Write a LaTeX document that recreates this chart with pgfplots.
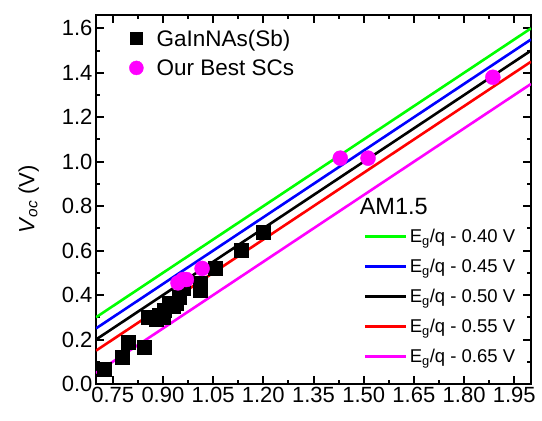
\documentclass[border=0pt]{standalone}
\usepackage{fontspec}
\setmainfont{Liberation Sans}
\usepackage{pgfplots}
\pgfplotsset{compat=1.18}

\definecolor{lgreen}{RGB}{0,255,0}
\definecolor{lblue}{RGB}{0,0,255}
\definecolor{lred}{RGB}{255,0,0}
\definecolor{lmag}{RGB}{255,0,255}

\begin{document}
\begin{tikzpicture}
\pgfplotsset{
  base/.style={
    scale only axis, width=435bp, height=369bp,
    xmin=0.7, xmax=2.0, ymin=0, ymax=1.66,
    at={(0,0)}, anchor=south west,
  },
}
\begin{axis}[base,
  axis line style={line width=2.5bp},
  tick align=inside,
  xtick={0.75,0.90,1.05,1.20,1.35,1.50,1.65,1.80,1.95},
  ytick={0,0.2,0.4,0.6,0.8,1.0,1.2,1.4,1.6},
  minor x tick num=1, minor y tick num=1,
  major tick length=8bp, minor tick length=4.5bp,
  every tick/.style={black, line width=2bp},
  /pgf/number format/assume math mode=true,
  xticklabel={\pgfmathprintnumber[fixed,fixed zerofill,precision=2]{\tick}},
  yticklabel={\pgfmathprintnumber[fixed,fixed zerofill,precision=1]{\tick}},
  tick label style={font=\fontsize{22bp}{26bp}\selectfont},
  ylabel={\textit{V}\textsubscript{\textit{oc}} (V)},
  ylabel style={at={(axis description cs:-0.155,0.5)}, anchor=center,
    font=\fontsize{22bp}{26bp}\selectfont},
  legend style={at={(rel axis cs:0.616,0.511)}, anchor=north west,
    draw=none, fill=none, font=\fontsize{18.5bp}{22bp}\selectfont,
    row sep=11.1bp, inner sep=0pt,
    /tikz/every even column/.append style={column sep=7bp}},
  legend cell align=left,
  legend image code/.code={\draw[#1] (0bp,0bp) -- (41bp,0bp);},
]
% GaInNAs(Sb)
\addplot[only marks, mark=square*, mark size=7bp, black, forget plot] coordinates {
(0.725,0.066) (0.779,0.120) (0.796,0.190) (0.843,0.166) (0.856,0.300)
(0.870,0.300) (0.880,0.290) (0.890,0.310) (0.900,0.300) (0.905,0.330)
(0.920,0.365) (0.930,0.350) (0.940,0.364) (0.950,0.390) (0.960,0.430)
(1.010,0.420) (1.010,0.455) (1.055,0.520) (1.134,0.600) (1.200,0.683)
};

\addlegendimage{empty legend}
\addlegendentry{\hspace{-50bp}\raisebox{-2bp}[15bp][0bp]{\fontsize{23.5bp}{27bp}\selectfont AM1.5}}
\addplot[lgreen, line width=2.6bp] coordinates {(0.7,0.30) (2.0,1.60)};
\addlegendentry{E\textsubscript{g}/q - 0.40 V}
\addplot[lblue, line width=2.6bp] coordinates {(0.7,0.25) (2.0,1.55)};
\addlegendentry{E\textsubscript{g}/q - 0.45 V}
\addplot[black, line width=2.6bp] coordinates {(0.7,0.20) (2.0,1.50)};
\addlegendentry{E\textsubscript{g}/q - 0.50 V}
\addplot[lred, line width=2.6bp] coordinates {(0.7,0.15) (2.0,1.45)};
\addlegendentry{E\textsubscript{g}/q - 0.55 V}
\addplot[lmag, line width=2.6bp] coordinates {(0.7,0.05) (2.0,1.35)};
\addlegendentry{E\textsubscript{g}/q - 0.65 V}

% Our Best SCs
\addplot[only marks, mark=*, mark size=7.5bp, lmag, forget plot] coordinates {
(0.945,0.455) (0.960,0.470) (0.970,0.470) (1.017,0.520)
(1.430,1.016) (1.513,1.016) (1.886,1.380)
};
\end{axis}

\begin{axis}[base, hide axis,
  legend style={at={(rel axis cs:0.0736,0.966)}, anchor=north west,
    draw=none, fill=none, font=\fontsize{22.5bp}{26bp}\selectfont,
    row sep=7.8bp, inner sep=0pt,
    /tikz/every even column/.append style={column sep=18bp}},
  legend cell align=left,
  legend image code/.code={\draw[#1] plot coordinates {(8bp,0bp)}; \path (0bp,0bp) (26bp,0bp);},
]
\addlegendimage{only marks, mark=square*, mark size=6bp, black}
\addlegendentry{GaInNAs(Sb)}
\addlegendimage{only marks, mark=*, mark size=7bp, lmag}
\addlegendentry{Our Best SCs}
\end{axis}

\pgfresetboundingbox
\path[use as bounding box] (-96bp,-37bp) rectangle (446bp,384bp);
\end{tikzpicture}
\end{document}
